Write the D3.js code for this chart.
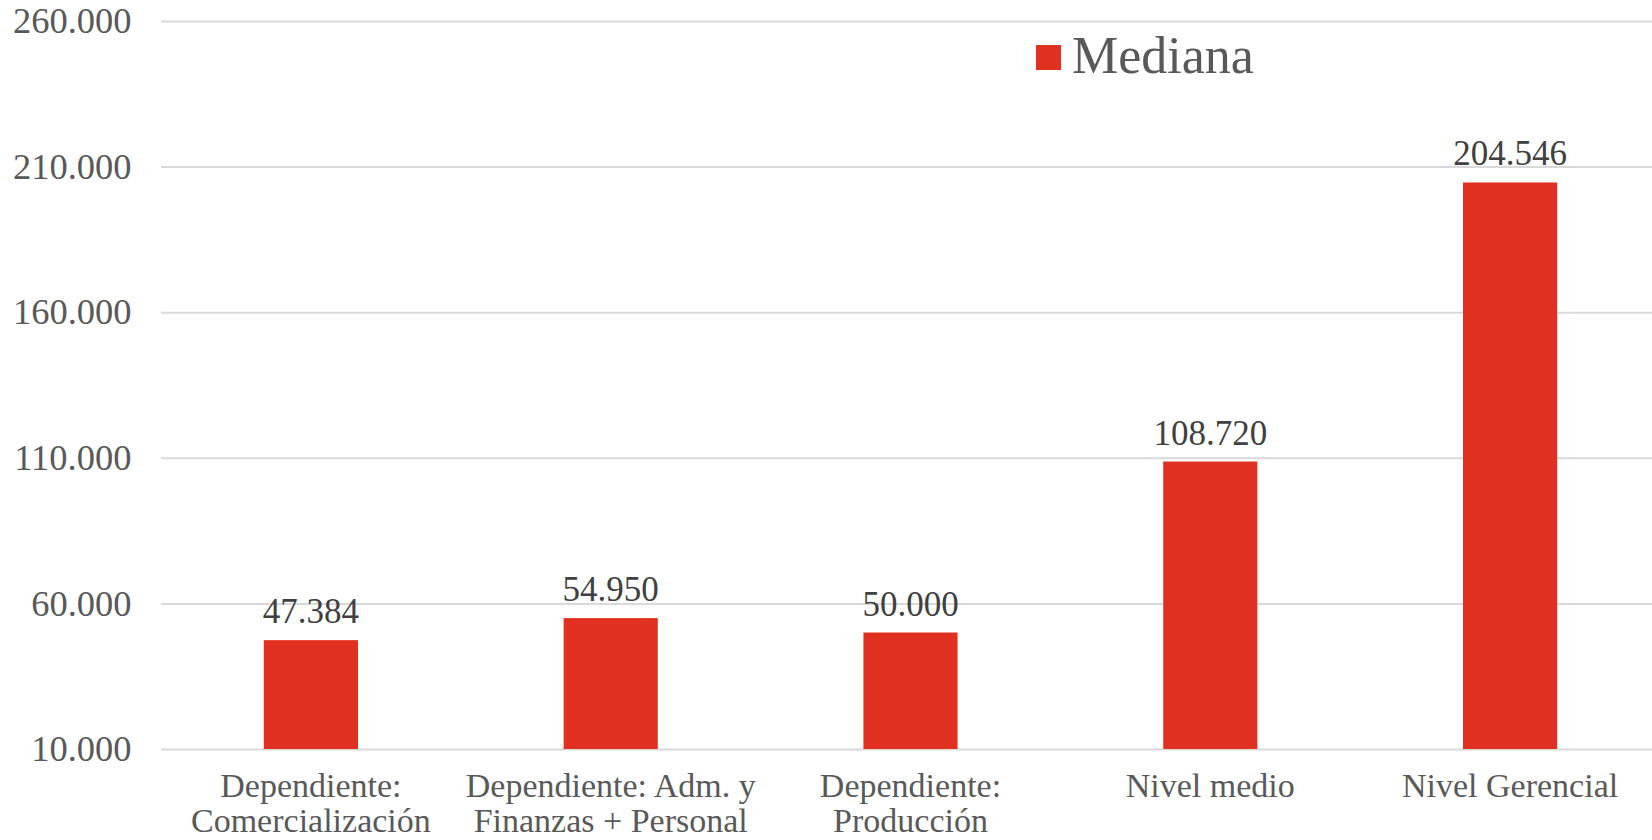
<!DOCTYPE html>
<html>
<head>
<meta charset="utf-8">
<script src="https://cdn.jsdelivr.net/npm/d3@7"></script>
<style>
  html, body { margin: 0; padding: 0; background: #fff; overflow: hidden; }
  svg { display: block; }
  text { font-family: "Liberation Serif", "Times New Roman", serif; }
</style>
</head>
<body>
<svg id="chart" width="1652" height="840"></svg>
<script>
const categories = [
  "Dependiente:\nComercialización",
  "Dependiente: Adm. y\nFinanzas + Personal",
  "Dependiente:\nProducción",
  "Nivel medio",
  "Nivel Gerencial"
];
const medianValues = [47384, 54950, 50000, 108720, 204546];
const yTickValues = [10000, 60000, 110000, 160000, 210000, 260000];
const seriesName = "Mediana";

const W = 1652, H = 840;
const plot = { left: 161, right: 1660, top: 21, bottom: 749 };
const barColor = "#E0301F";

const locale = d3.formatLocale({ decimal: ",", thousands: ".", grouping: [3], currency: ["$", ""] });
const fmt = locale.format(",.0f");

const svg = d3.select("#chart");

const x = d3.scaleBand()
  .domain(categories)
  .range([plot.left, plot.right])
  .paddingInner(0.686)
  .paddingOuter(0.343);

const y = d3.scaleLinear()
  .domain([10000, 260000])
  .range([plot.bottom, plot.top]);

// Y axis with gridlines
const yAxis = d3.axisLeft(y)
  .tickValues(yTickValues)
  .tickSize(-(W - plot.left))
  .tickPadding(29.5)
  .tickFormat(d => fmt(d));

const gy = svg.append("g")
  .attr("transform", `translate(${plot.left},0)`)
  .call(yAxis);
gy.select(".domain").remove();
gy.selectAll(".tick line")
  .attr("stroke", "#d9d9d9")
  .attr("stroke-width", 2);
gy.selectAll(".tick text")
  .attr("fill", "#595959")
  .style("font-size", "36.5px");

// Bars
svg.append("g").selectAll("rect")
  .data(medianValues)
  .join("rect")
  .attr("x", (d, i) => x(categories[i]))
  .attr("y", d => y(d))
  .attr("width", x.bandwidth())
  .attr("height", d => y(10000) - y(d))
  .attr("fill", barColor);

// Data labels
svg.append("g").selectAll("text")
  .data(medianValues)
  .join("text")
  .attr("x", (d, i) => x(categories[i]) + x.bandwidth() / 2)
  .attr("y", d => y(d) - 17)
  .attr("text-anchor", "middle")
  .attr("fill", "#404040")
  .style("font-size", "35px")
  .text(d => fmt(d));

// Category labels
const catG = svg.append("g");
categories.forEach((c, i) => {
  const t = catG.append("text")
    .attr("x", x(c) + x.bandwidth() / 2)
    .attr("y", 797)
    .attr("text-anchor", "middle")
    .attr("fill", "#595959")
    .style("font-size", "34px");
  c.split("\n").forEach((line, j) => {
    t.append("tspan")
      .attr("x", x(c) + x.bandwidth() / 2)
      .attr("dy", j === 0 ? 0 : 35)
      .text(line);
  });
});

// Legend
const lg = svg.append("g");
lg.append("rect")
  .attr("x", 1036).attr("y", 45)
  .attr("width", 25).attr("height", 25)
  .attr("fill", barColor);
lg.append("text")
  .attr("x", 1072).attr("y", 73)
  .attr("fill", "#595959")
  .style("font-size", "52px")
  .text(seriesName);
</script>
</body>
</html>
